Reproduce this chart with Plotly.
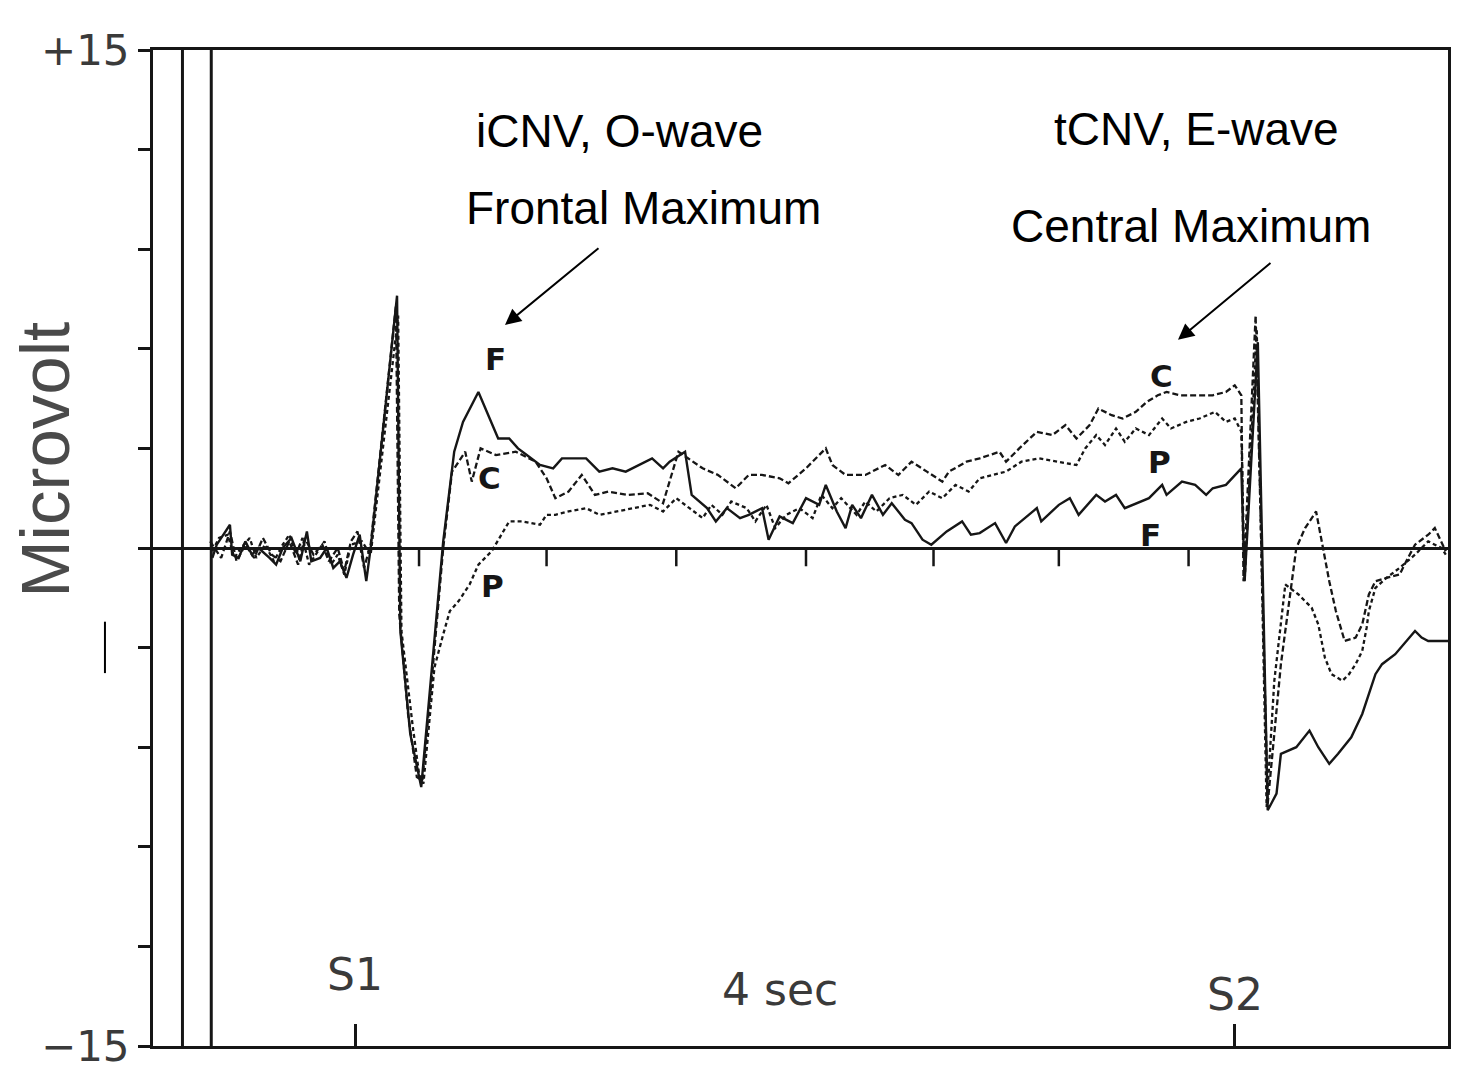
import plotly.graph_objects as go

# ---- averaged ERP traces (µV) over the S1–S2 interval; time in seconds from S1 ----
t_F = [-0.65, -0.63, -0.57, -0.56, -0.53, -0.50, -0.47, -0.44, -0.39, -0.36, -0.33, -0.29,
       -0.25, -0.22, -0.20, -0.16, -0.13, -0.10, -0.07, -0.04, -0.01, 0.02, 0.05, 0.07,
       0.19, 0.205, 0.25, 0.28, 0.30, 0.35, 0.40, 0.45, 0.49, 0.56, 0.63, 0.65, 0.70, 0.74,
       0.78, 0.84, 0.90, 0.94, 0.99, 1.05, 1.11, 1.17, 1.23, 1.32, 1.35, 1.40, 1.43, 1.50,
       1.53, 1.60, 1.64, 1.69, 1.75, 1.79, 1.85, 1.88, 1.93, 1.99, 2.05, 2.11, 2.14, 2.19,
       2.23, 2.26, 2.30, 2.35, 2.40, 2.44, 2.50, 2.53, 2.58, 2.62, 2.69, 2.76, 2.80, 2.84,
       2.91, 2.96, 3.00, 3.10, 3.12, 3.20, 3.25, 3.29, 3.37, 3.41, 3.46, 3.50, 3.61, 3.67,
       3.69, 3.76, 3.82, 3.87, 3.90, 3.96, 4.00, 4.03,
       4.045, 4.105, 4.15, 4.19, 4.21, 4.28, 4.34, 4.38, 4.43, 4.47, 4.53, 4.58, 4.64, 4.67,
       4.73, 4.78, 4.82, 4.85, 4.88, 4.94, 4.97]
v_F = [-0.3, 0.1, 0.7, -0.2, -0.3, 0.2, -0.2, 0.0, -0.3, -0.5, 0.0, 0.3,
       -0.4, 0.5, -0.4, -0.3, 0.0, -0.6, -0.4, -0.9, -0.2, 0.4, -1.0, 0.0,
       7.6, -2.5, -5.6, -6.6, -7.2, -3.5, 0.2, 2.9, 3.8, 4.7, 3.6, 3.3, 3.3, 3.0,
       2.8, 2.5, 2.4, 2.7, 2.7, 2.7, 2.3, 2.4, 2.3, 2.6, 2.7, 2.4, 2.6, 2.9,
       1.6, 1.2, 0.8, 1.2, 0.9, 1.0, 1.2, 0.25, 0.95, 0.75, 1.5, 1.3, 1.9, 1.1,
       0.6, 1.3, 0.9, 1.6, 1.0, 1.35, 0.85, 0.75, 0.25, 0.1, 0.5, 0.8, 0.4, 0.45,
       0.75, 0.15, 0.65, 1.2, 0.8, 1.3, 1.5, 1.0, 1.6, 1.4, 1.6, 1.2, 1.5, 1.9,
       1.6, 2.0, 1.9, 1.6, 1.8, 1.9, 2.2, 2.4,
       -1.0, 6.2, -7.9, -7.4, -6.2, -6.0, -5.5, -6.0, -6.5, -6.2, -5.7, -5.0, -3.8, -3.5,
       -3.2, -2.8, -2.5, -2.7, -2.8, -2.8, -2.8]

t_C = [-0.66, -0.61, -0.57, -0.54, -0.50, -0.46, -0.42, -0.38, -0.34, -0.30, -0.26, -0.23,
       -0.19, -0.15, -0.12, -0.08, -0.05, -0.02, 0.01, 0.04, 0.07,
       0.185, 0.20, 0.24, 0.28, 0.305, 0.35, 0.40, 0.44, 0.50, 0.53, 0.57, 0.64, 0.73, 0.82,
       0.87, 0.91, 0.97, 1.03, 1.09, 1.15, 1.24, 1.33, 1.40,
       1.47, 1.58, 1.65, 1.73, 1.79, 1.85, 1.93, 1.97, 2.05, 2.14, 2.17, 2.23, 2.32, 2.41,
       2.47, 2.53, 2.60, 2.67, 2.70, 2.78, 2.84, 2.93, 2.96, 3.02, 3.10, 3.17, 3.23, 3.28,
       3.34, 3.38, 3.44, 3.49, 3.55, 3.60, 3.65, 3.69, 3.75, 3.82, 3.90, 3.96, 4.00, 4.03,
       4.04, 4.095, 4.15, 4.21, 4.28, 4.32, 4.37, 4.41, 4.43, 4.46, 4.49, 4.50, 4.55, 4.58,
       4.61, 4.64, 4.69, 4.75, 4.78, 4.82, 4.88, 4.91, 4.96]
v_C = [0.2, -0.3, 0.5, -0.4, 0.1, -0.3, 0.3, -0.2, -0.4, 0.2, -0.5, 0.3,
       -0.2, 0.1, -0.4, 0.0, -0.7, 0.2, 0.5, -0.6, 0.1,
       7.3, -2.0, -5.0, -6.9, -7.0, -3.8, 0.0, 2.3, 2.9, 2.0, 3.0, 2.8, 2.9, 2.6,
       2.1, 1.5, 1.7, 2.2, 1.6, 1.7, 1.6, 1.65, 1.35,
       2.9, 2.4, 2.2, 1.8, 2.2, 2.2, 2.1, 1.95, 2.4, 3.0, 2.5, 2.2, 2.2, 2.5,
       2.2, 2.6, 2.3, 2.0, 2.3, 2.6, 2.7, 2.9, 2.6, 3.0, 3.5, 3.4, 3.7, 3.3,
       3.7, 4.2, 4.0, 3.9, 4.1, 4.4, 4.6, 4.7, 4.6, 4.6, 4.6, 4.7, 4.9, 4.6,
       -1.0, 7.0, -7.7, -3.5, 0.0, 0.6, 1.1, -0.3, -1.0, -1.9, -2.6, -2.8, -2.7, -2.3,
       -1.4, -1.0, -0.9, -0.8, -0.4, 0.1, 0.4, 0.6, -0.1]

t_P = [-0.65, -0.62, -0.58, -0.55, -0.52, -0.48, -0.45, -0.41, -0.37, -0.33, -0.30, -0.27,
       -0.24, -0.21, -0.17, -0.14, -0.11, -0.08, -0.05, -0.02, 0.03, 0.07,
       0.195, 0.21, 0.26, 0.29, 0.31, 0.36, 0.40, 0.43, 0.47, 0.52, 0.56, 0.62, 0.70, 0.76,
       0.84, 0.87, 0.91, 0.97, 1.05, 1.11, 1.19, 1.26,
       1.34, 1.40, 1.46, 1.52, 1.58, 1.62, 1.67, 1.71, 1.78, 1.82, 1.87, 1.91, 1.96, 2.02,
       2.08, 2.12, 2.17, 2.21, 2.28, 2.32, 2.37, 2.43, 2.49, 2.55, 2.61, 2.67, 2.73, 2.79,
       2.84, 2.96, 3.03, 3.11, 3.20, 3.28, 3.32, 3.37, 3.41, 3.46, 3.50, 3.55, 3.61, 3.67,
       3.71, 3.78, 3.84, 3.91, 3.96, 4.00, 4.03,
       4.045, 4.10, 4.145, 4.18, 4.23, 4.29, 4.35, 4.38, 4.41, 4.44, 4.49, 4.52, 4.55, 4.58,
       4.60, 4.61, 4.64, 4.69, 4.75, 4.82, 4.88, 4.94, 4.96]
v_P = [-0.1, 0.3, 0.4, -0.3, 0.0, 0.3, -0.3, 0.1, -0.4, 0.1, 0.4, -0.2,
       0.3, -0.5, -0.1, 0.2, -0.5, -0.2, -0.8, 0.1, 0.2, -0.2,
       7.0, -2.5, -5.3, -6.8, -7.1, -3.6, -2.6, -1.9, -1.6, -1.1, -0.5, -0.1, 0.8, 0.8,
       0.7, 1.0, 1.0, 1.1, 1.2, 1.0, 1.1, 1.2,
       1.3, 1.1, 1.5, 1.2, 0.9, 1.3, 1.0, 1.4, 1.2, 0.8, 1.3, 0.6, 1.0, 1.2,
       0.9, 1.6, 1.2, 1.5, 1.0, 1.4, 1.1, 1.5, 1.6, 1.3, 1.7, 1.5, 1.9, 1.7,
       2.1, 2.3, 2.6, 2.7, 2.6, 2.5, 3.0, 3.4, 3.1, 3.6, 3.2, 3.6, 3.4, 3.9,
       3.6, 3.8, 3.9, 4.1, 3.8, 3.9, 3.5,
       -1.0, 6.6, -7.8, -4.0, -1.1, -1.4, -1.8, -2.3, -3.3, -3.8, -4.0, -3.8, -3.5, -3.1,
       -2.4, -1.9, -1.2, -0.9, -0.6, -0.2, 0.2, 0.0, -0.2]

# off-scale sweep edges at the start of the epoch
sweep_edges_t = [-0.786, -0.655]
# time markers on the baseline
baseline_ticks_t = [0.29, 0.87, 1.46, 2.05, 2.63, 3.20, 3.79]
# stimulus markers
stim_t = [0.0, 4.0]
stim_names = ["S1", "S2"]
y_ticks = [-15, -12, -9, -6, -3, 0, 3, 6, 9, 12, 15]
y_tick_text = ["\u221215", "", "", "", "", "", "", "", "", "", "+15"]

T_RANGE = [-0.92, 4.97]
V_RANGE = [-15, 15]

INK = "#161616"
SCAN_TEXT = "#3a3a3a"
SCAN_FONT = "DejaVu Sans, Verdana, sans-serif"

fig = go.Figure()

# sweep edges
for te in sweep_edges_t:
    fig.add_trace(go.Scatter(x=[te, te], y=V_RANGE, mode="lines",
                             line=dict(color=INK, width=3), hoverinfo="skip", showlegend=False))

# small downward ticks on the zero line
tick_x, tick_y = [], []
for tt in baseline_ticks_t:
    tick_x += [tt, tt, None]
    tick_y += [0, -0.55, None]
fig.add_trace(go.Scatter(x=tick_x, y=tick_y, mode="lines",
                         line=dict(color=INK, width=2.5), hoverinfo="skip", showlegend=False))

# the three electrode traces
fig.add_trace(go.Scatter(x=t_P, y=v_P, mode="lines", name="P",
                         line=dict(color=INK, width=2.3, dash="4px,3px"), showlegend=False))
fig.add_trace(go.Scatter(x=t_C, y=v_C, mode="lines", name="C",
                         line=dict(color=INK, width=2.3, dash="6px,3px"), showlegend=False))
fig.add_trace(go.Scatter(x=t_F, y=v_F, mode="lines", name="F",
                         line=dict(color=INK, width=2.4), showlegend=False))

fig.update_layout(
    width=1481, height=1083,
    margin=dict(l=153, r=33, t=50, b=26),
    paper_bgcolor="white", plot_bgcolor="white",
    font=dict(family="Liberation Sans, Arial, sans-serif", color=INK),
    xaxis=dict(range=T_RANGE, showgrid=False, zeroline=False,
               showline=True, mirror=True, linecolor=INK, linewidth=3,
               tickmode="array", tickvals=stim_t, ticks="inside", ticklen=22,
               tickwidth=3, tickcolor=INK, showticklabels=False),
    yaxis=dict(range=V_RANGE, showgrid=False,
               zeroline=True, zerolinecolor=INK, zerolinewidth=3,
               showline=True, mirror=True, linecolor=INK, linewidth=3,
               tickmode="array", tickvals=y_ticks, ticktext=y_tick_text,
               ticks="outside", ticklen=12, tickwidth=2.5, tickcolor=INK,
               tickfont=dict(family=SCAN_FONT, size=42, color=SCAN_TEXT)),
)


def note(text, x, y, size, color, family=None, angle=0, xref="paper"):
    f = dict(size=size, color=color)
    if family:
        f["family"] = family
    return dict(text=text, x=x, y=y, xref=xref, yref="paper", textangle=angle,
                xanchor="center", yanchor="middle", showarrow=False, font=f)


annotations = [
    # axis title
    note("Microvolt", -0.083, 0.588, 69, "#4a4a4a", angle=-90),
    # component captions
    note("iCNV, O-wave", 0.360, 0.9185, 46, "black"),
    note("Frontal Maximum", 0.379, 0.841, 46, "black"),
    note("tCNV, E-wave", 0.806, 0.9206, 46, "black"),
    note("Central Maximum", 0.8015, 0.823, 46, "black"),
    # electrode labels on the traces
    note("<b>F</b>", 0.2641, 0.690, 31, INK, SCAN_FONT),
    note("<b>C</b>", 0.2602, 0.570, 31, INK, SCAN_FONT),
    note("<b>P</b>", 0.2618, 0.4618, 31, INK, SCAN_FONT),
    note("<b>C</b>", 0.7791, 0.6723, 31, INK, SCAN_FONT),
    note("<b>P</b>", 0.7776, 0.5859, 31, INK, SCAN_FONT),
    note("<b>F</b>", 0.7699, 0.5134, 31, INK, SCAN_FONT),
    # time-axis caption
    note("4 sec", 0.4842, 0.0566, 44, SCAN_TEXT, SCAN_FONT),
]
# stimulus labels just above their ticks
for st, name, yp in zip(stim_t, stim_names, [0.072, 0.052]):
    annotations.append(note(name, st, yp, 44, SCAN_TEXT, SCAN_FONT, xref="x"))

# pointer arrows from the captions to the maxima
annotations += [
    dict(text="", x=0.2718, y=0.7239, xref="paper", yref="paper",
         showarrow=True, ax=95, ay=-78, arrowhead=2, arrowsize=1.6,
         arrowwidth=2, arrowcolor="black"),
    dict(text="", x=0.7915, y=0.709, xref="paper", yref="paper",
         showarrow=True, ax=94, ay=-78, arrowhead=2, arrowsize=1.6,
         arrowwidth=2, arrowcolor="black"),
]
fig.update_layout(annotations=annotations)

# stray pen mark left of the axis
fig.add_shape(type="line", xref="paper", yref="paper",
              x0=-0.0371, x1=-0.0371, y0=0.426, y1=0.3744,
              line=dict(color="black", width=2))

fig.write_html("out.html")
